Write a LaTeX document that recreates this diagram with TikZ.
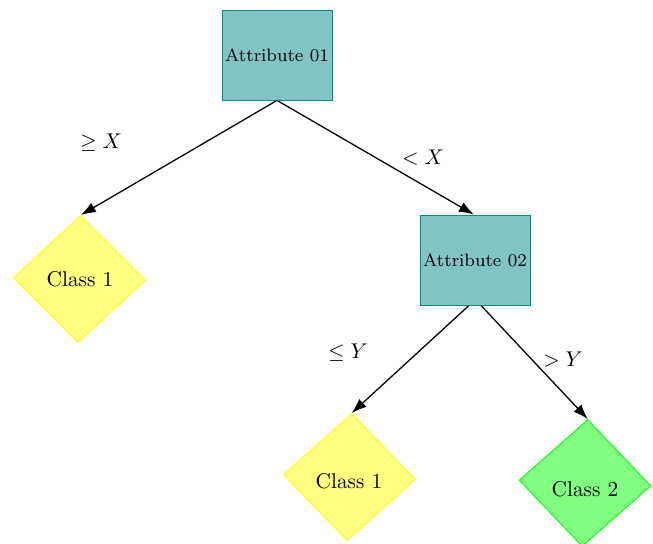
\documentclass[tikz,border=0pt]{standalone}
\usetikzlibrary{shapes.geometric,arrows.meta}
\definecolor{yfill}{RGB}{255,255,128}
\definecolor{yline}{RGB}{255,255,0}
\definecolor{gfill}{RGB}{128,255,128}
\definecolor{gline}{RGB}{0,255,0}
\definecolor{tfill}{RGB}{128,196,196}
\definecolor{tline}{RGB}{0,140,140}
\begin{document}
\begin{tikzpicture}[x=0.469pt,y=-0.469pt,
  attrbox/.style={draw=tline,fill=tfill,rectangle,minimum width=51.6pt,minimum height=42.2pt,inner sep=0pt,font=\fontsize{8.4}{10}\selectfont},
  leafshape/.style={diamond,minimum width=61.9pt,minimum height=59.6pt,inner sep=0pt},
  yleaf/.style={leafshape,draw=yline,fill=yfill},
  gleaf/.style={leafshape,draw=gline,fill=gfill},
  leaftext/.style={inner sep=0pt},
  edge/.style={draw,line width=0.6pt,-{Latex[length=7pt,width=5pt]}},
  cond/.style={inner sep=0pt}]
\useasboundingbox (0,0) rectangle (653,544);
\node[attrbox] (a1) at (277,55) {Attribute 01};
\node[attrbox] (a2) at (475,260) {Attribute 02};
\node[yleaf,rotate=-1.2] (c1) at (79.5,279) {};
\node[leaftext] (c1t) at (80,279) {Class 1};
\node[yleaf,rotate=-2] (c1b) at (349.5,477) {};
\node[leaftext] (c1bt) at (349,481) {Class 1};
\node[gleaf,rotate=-2.5] (c2) at (585,483) {};
\node[leaftext] (c2t) at (585,489) {Class 2};
\draw[edge] (a1.south) -- (c1.north);
\draw[edge] (a1.south) -- ([xshift=-0.5pt]a2.north);
\draw[edge] ([xshift=-2.8pt]a2.south) -- (c1b.north);
\draw[edge] ([xshift=2.8pt]a2.south) -- (c2.north);
\node[cond] (l1) at (101,143) {$\geq X$};
\node[cond] (l2) at (423,158) {$< X$};
\node[cond] (l3) at (348,353) {$\leq Y$};
\node[cond] (l4) at (563,360) {$> Y$};
\end{tikzpicture}
\end{document}
